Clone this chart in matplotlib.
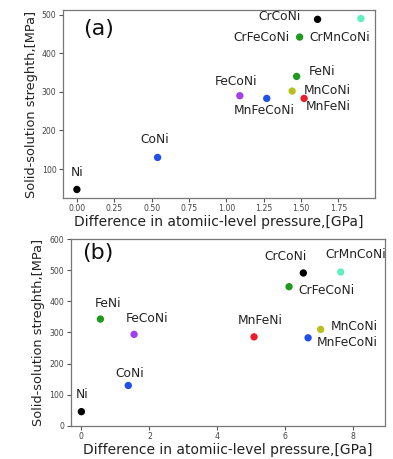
import matplotlib
matplotlib.use("Agg")
import matplotlib.pyplot as plt

names = ["Ni", "CoNi", "FeCoNi", "MnFeCoNi", "MnCoNi", "FeNi", "MnFeNi",
         "CrFeCoNi", "CrCoNi", "CrMnCoNi"]
colors = ["black", "#2050e8", "#a040f0", "#2050e8", "#b8c020", "#1e9a1e",
          "#e81e2a", "#1e9a1e", "black", "#60f0c0"]
strength = [47, 130, 290, 283, 302, 340, 283, 442, 488, 490]
strength_b = [46, 130, 294, 283, 310, 343, 286, 447, 491, 494]
x_a = [0.0, 0.54, 1.09, 1.27, 1.44, 1.47, 1.52, 1.49, 1.61, 1.90]
x_b = [0.0, 1.38, 1.55, 6.67, 7.04, 0.56, 5.08, 6.11, 6.53, 7.63]

# label offsets in pixels (dx, dy) and alignment
off_a = {"Ni": (0, 10, "center", "bottom"), "CoNi": (-3, 11, "center", "bottom"),
         "FeCoNi": (-4, 8, "center", "bottom"), "MnFeCoNi": (-3, -6, "center", "top"),
         "MnCoNi": (12, 1, "left", "center"), "FeNi": (12, 5, "left", "center"),
         "MnFeNi": (2, -8, "left", "center"), "CrFeCoNi": (-10, 0, "right", "center"),
         "CrCoNi": (-17, 3, "right", "center"), "CrMnCoNi": (-52, -19, "left", "center")}
off_b = {"Ni": (1, 11, "center", "bottom"), "CoNi": (1, 5, "center", "bottom"),
         "FeCoNi": (13, 9, "center", "bottom"), "MnFeCoNi": (9, -5, "left", "center"),
         "MnCoNi": (10, 3, "left", "center"), "FeNi": (8, 9, "center", "bottom"),
         "MnFeNi": (6, 10, "center", "bottom"), "CrFeCoNi": (9, -4, "left", "center"),
         "CrCoNi": (-18, 10, "center", "bottom"), "CrMnCoNi": (15, 11, "center", "bottom")}

xlabel = "Difference in atomiic-level pressure,[GPa]"
ylabel = "Solid-solution streghth,[MPa]"

fig = plt.figure(figsize=(3.93, 4.59), dpi=100)
ax1 = fig.add_axes([0.1595, 0.5686, 0.795, 0.4096])
ax2 = fig.add_axes([0.1794, 0.0719, 0.800, 0.4074])

def draw(ax, xs, ys, offs, tag, tag_pos):
    ax.scatter(xs, ys, c=colors, s=28, zorder=3, edgecolors="none")
    for n, x, y in zip(names, xs, ys):
        dx, dy, ha, va = offs[n]
        ax.annotate(n, (x, y), xytext=(dx, dy), textcoords="offset pixels",
                    ha=ha, va=va, fontsize=8.8, color="#222222")
    ax.text(tag_pos[0], tag_pos[1], tag, transform=ax.transAxes, fontsize=16,
            ha="left", va="top", color="#111111")
    ax.set_xlabel(xlabel, fontsize=10, color="#222222", labelpad=1)
    ax.set_ylabel(ylabel, fontsize=9.3, color="#222222", labelpad=3)
    ax.tick_params(labelsize=5.6, colors="#555555", length=3, width=0.8, pad=1.5)
    for t in ax.get_xticklabels() + ax.get_yticklabels():
        t.set_color("#444444")
    for s in ax.spines.values():
        s.set_color("#777777")
        s.set_linewidth(0.9)

draw(ax1, x_a, strength, off_a, "(a)", (0.065, 0.95))
ax1.set_xticks([0, 0.25, 0.5, 0.75, 1.0, 1.25, 1.5, 1.75])
ax1.set_xticklabels(["0.00", "0.25", "0.50", "0.75", "1.00", "1.25", "1.50", "1.75"])
ax1.set_yticks([100, 200, 300, 400, 500])

draw(ax2, x_b, strength_b, off_b, "(b)", (0.037, 0.98))
ax2.set_xlim(-0.32, 8.93)
ax2.set_ylim(0, 600)
ax2.set_xticks([0, 2, 4, 6, 8])
ax2.set_yticks([0, 100, 200, 300, 400, 500, 600])

fig.savefig("out.png", dpi=100)
